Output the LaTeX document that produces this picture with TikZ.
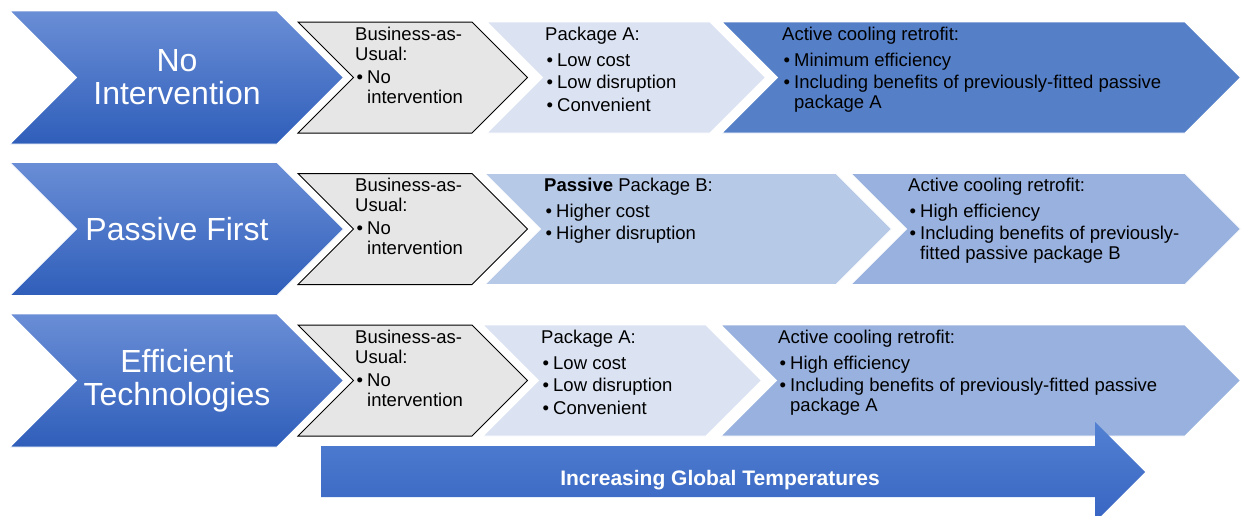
\documentclass[tikz,border=0pt]{standalone}
\usepackage{fontspec}
\setmainfont{Liberation Sans}
\usepackage{xcolor}
\definecolor{chevtop}{RGB}{106,142,214}
\definecolor{chevbot}{RGB}{47,94,186}
\definecolor{baufill}{RGB}{231,230,230}
\definecolor{pkgAfill}{RGB}{219,227,243}
\definecolor{pkgBfill}{RGB}{182,201,231}
\definecolor{actdark}{RGB}{85,128,200}
\definecolor{actmid}{RGB}{152,177,222}
\definecolor{arrtop}{RGB}{82,128,210}
\definecolor{arrbot}{RGB}{55,101,194}
\tikzset{
  % Chevron fills
  bigchev/.style  = {top color=chevtop, bottom color=chevbot, draw=white, line width=0.8pt},
  bauchev/.style  = {fill=baufill, draw=black, line width=1pt},
  pkgAchev/.style = {fill=pkgAfill, draw=white, line width=0.8pt},
  pkgBchev/.style = {fill=pkgBfill, draw=white, line width=0.8pt},
  actdchev/.style = {fill=actdark, draw=white, line width=0.8pt},
  actmchev/.style = {fill=actmid, draw=white, line width=0.8pt},
  tempbar/.style  = {top color=arrtop, bottom color=arrbot},
  % Text
  bigtxt/.style   = {font=\fontsize{32}{33}\selectfont, text=white, align=center, inner sep=0pt},
  blocktxt/.style = {font=\fontsize{18.5}{20}\selectfont, align=left, anchor=north west, inner sep=0pt},
  bartxt/.style   = {font=\bfseries\fontsize{21}{24}\selectfont, text=white, inner sep=0pt},
}
% chevron: style, left, right, top, bottom (notch depth = half height)
\newcommand{\chevron}[5]{%
  \path[#1] (#2,#4) -- (#3,#4) -- ({#3+(#5-#4)/2},{(#4+#5)/2}) -- (#3,#5)
    -- (#2,#5) -- ({#2+(#5-#4)/2},{(#4+#5)/2}) -- cycle;}
\newcommand{\itm}{\makebox[12pt][l]{\hspace{1.5pt}\textbullet}}
\newcommand{\cnt}{\hspace*{12pt}}

\begin{document}
\begin{tikzpicture}[x=1pt, y=-1pt]
  \clip (0,0) rectangle (1241,515);
  % Row 1
  \chevron{bigchev}{10}{277}{11}{144}
  \chevron{actdchev}{722}{1185}{22}{133}
  \chevron{pkgAchev}{487}{710}{22}{133}
  \chevron{bauchev}{298}{472}{22}{133}
  \node[bigtxt] (noint) at (177,77.5) {No\\Intervention};
  \node[blocktxt] (bau1) at (355,26.5) {Business-as-\\Usual:\\[3pt]\itm No\\\cnt intervention};
  \node[blocktxt] (pkga1) at (545,26.5) {Package A:\\[6pt]\itm Low cost\\[2.5pt]\itm Low disruption\\[2.5pt]\itm Convenient};
  \node[blocktxt] (act1) at (782,26.5) {Active cooling retrofit:\\[6pt]\itm Minimum efficiency\\[2.5pt]\itm Including benefits of previously-fitted passive\\\cnt package A};
  % Row 2
  \chevron{bigchev}{10}{277}{162.5}{295.5}
  \chevron{actmchev}{851}{1185}{173.5}{284.5}
  \chevron{pkgBchev}{485}{836}{173.5}{284.5}
  \chevron{bauchev}{298}{472}{173.5}{284.5}
  \node[bigtxt] (pasfirst) at (177,229) {Passive First};
  \node[blocktxt] (bau2) at (355,178) {Business-as-\\Usual:\\[3pt]\itm No\\\cnt intervention};
  \node[blocktxt] (pkgb2) at (544,177.5) {\textbf{Passive} Package B:\\[6pt]\itm Higher cost\\[2.5pt]\itm Higher disruption};
  \node[blocktxt] (act2) at (908,177.5) {Active cooling retrofit:\\[6pt]\itm High efficiency\\[2.5pt]\itm Including benefits of previously-\\\cnt fitted passive package B};
  % Row 3
  \chevron{bigchev}{10}{277}{314}{447}
  \chevron{actmchev}{721}{1185}{325}{436}
  \chevron{pkgAchev}{483}{706}{325}{436}
  \chevron{bauchev}{298}{472}{325}{436}
  \node[bigtxt] (efftech) at (177,380.5) {Efficient\\Technologies};
  \node[blocktxt] (bau3) at (355,329.5) {Business-as-\\Usual:\\[3pt]\itm No\\\cnt intervention};
  \node[blocktxt] (pkga3) at (541,329.5) {Package A:\\[6pt]\itm Low cost\\[2.5pt]\itm Low disruption\\[2.5pt]\itm Convenient};
  \node[blocktxt] (act3) at (778,329.5) {Active cooling retrofit:\\[6pt]\itm High efficiency\\[2.5pt]\itm Including benefits of previously-fitted passive\\\cnt package A};
  % Temperature arrow
  \path[tempbar] (321,446) -- (1095,446) -- (1095,422) -- (1145,472)
    -- (1095,522) -- (1095,497) -- (321,497) -- cycle;
  \node[bartxt] (temp) at (720,480) {Increasing Global Temperatures};
\end{tikzpicture}
\end{document}
